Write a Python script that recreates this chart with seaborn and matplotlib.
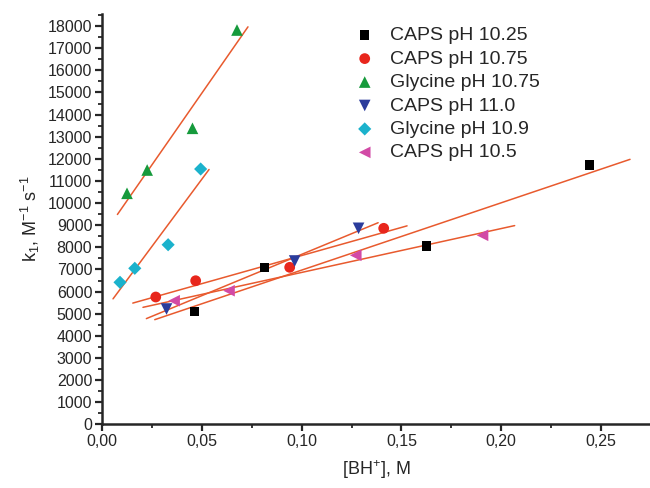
import numpy as np
import pandas as pd
import matplotlib
matplotlib.use("Agg")
import matplotlib.pyplot as plt
from matplotlib.ticker import MultipleLocator, FixedLocator
import seaborn as sns

# Data: [BH+] (M) vs k1 (M^-1 s^-1)
caps_1025_x = [0.0464, 0.0814, 0.1627, 0.2443]
caps_1025_y = [5107, 7096, 8059, 11720]

caps_1075_x = [0.0269, 0.0469, 0.0940, 0.1411]
caps_1075_y = [5754, 6490, 7096, 8859]

gly_1075_x = [0.0125, 0.0226, 0.0453, 0.0676]
gly_1075_y = [10441, 11494, 13379, 17821]

caps_110_x = [0.0323, 0.0965, 0.1285]
caps_110_y = [5211, 7381, 8859]

gly_109_x = [0.0090, 0.0164, 0.0331, 0.0494]
gly_109_y = [6418, 7051, 8117, 11539]

caps_105_x = [0.0361, 0.0636, 0.1271, 0.1906]
caps_105_y = [5586, 6038, 7638, 8542]

labels = ["CAPS pH 10.25", "CAPS pH 10.75", "Glycine pH 10.75",
          "CAPS pH 11.0", "Glycine pH 10.9", "CAPS pH 10.5"]
# x range over which each linear fit is drawn
fit_ranges = [(0.0264, 0.2645), (0.0154, 0.1528), (0.0077, 0.0731),
              (0.0222, 0.1383), (0.0055, 0.0536), (0.0205, 0.2067)]

x_ticks = [0.00, 0.05, 0.10, 0.15, 0.20, 0.25]
x_tick_labels = ["0,00", "0,05", "0,10", "0,15", "0,20", "0,25"]

series_x = [caps_1025_x, caps_1075_x, gly_1075_x, caps_110_x, gly_109_x, caps_105_x]
series_y = [caps_1025_y, caps_1075_y, gly_1075_y, caps_110_y, gly_109_y, caps_105_y]
colors = ["#000000", "#e8261c", "#169a3c", "#2b3c9c", "#1bb2cc", "#d24aa6"]
markers = ["s", "o", "^", "v", "D", "<"]
sizes = [45, 60, 70, 70, 45, 70]

sns.set_style("ticks")
plt.rcParams["font.family"] = ["Liberation Sans", "DejaVu Sans"]

fig = plt.figure(figsize=(6.5, 4.88), dpi=100)
ax = fig.add_axes([0.157, 0.1305, 0.843, 0.8408])

for xs, ys, rng, c, m, s, lab in zip(series_x, series_y, fit_ranges, colors, markers, sizes, labels):
    slope, icpt = np.polyfit(xs, ys, 1)
    fx = np.array(rng)
    fit = pd.DataFrame({"x": fx, "y": slope * fx + icpt})
    sns.lineplot(data=fit, x="x", y="y", ax=ax, color="#e85a2e", linewidth=1.1, legend=False)
    df = pd.DataFrame({"x": xs, "y": ys})
    sns.scatterplot(data=df, x="x", y="y", ax=ax, color=c, marker=m, s=s,
                    edgecolor="none", label=lab, zorder=3)

ax.set_xlim(0, 0.2745)
ax.set_ylim(0, 18545)
ax.xaxis.set_major_locator(FixedLocator(x_ticks))
ax.set_xticklabels(x_tick_labels)
ax.xaxis.set_minor_locator(MultipleLocator(0.025))
ax.yaxis.set_major_locator(MultipleLocator(1000))
ax.yaxis.set_minor_locator(MultipleLocator(500))

sns.despine(ax=ax)
for sp in ["left", "bottom"]:
    ax.spines[sp].set_linewidth(1.8)
ax.tick_params(which="major", direction="out", length=5, width=1.6, labelsize=11.5, pad=2)
ax.tick_params(which="minor", direction="out", length=3, width=1.3)

ax.set_xlabel("[BH$^\\mathregular{+}$], M", fontsize=13, labelpad=7)
ax.set_ylabel("k$_\\mathregular{1}$, M$^\\mathregular{-1}$ s$^\\mathregular{-1}$", fontsize=13, labelpad=4)

ax.legend(loc="upper left", bbox_to_anchor=(0.435, 1.0), frameon=False,
          fontsize=14, handletextpad=0.7, labelspacing=0.3, borderaxespad=0.25,
          handlelength=1.2)

fig.savefig("out.png", dpi=100)
